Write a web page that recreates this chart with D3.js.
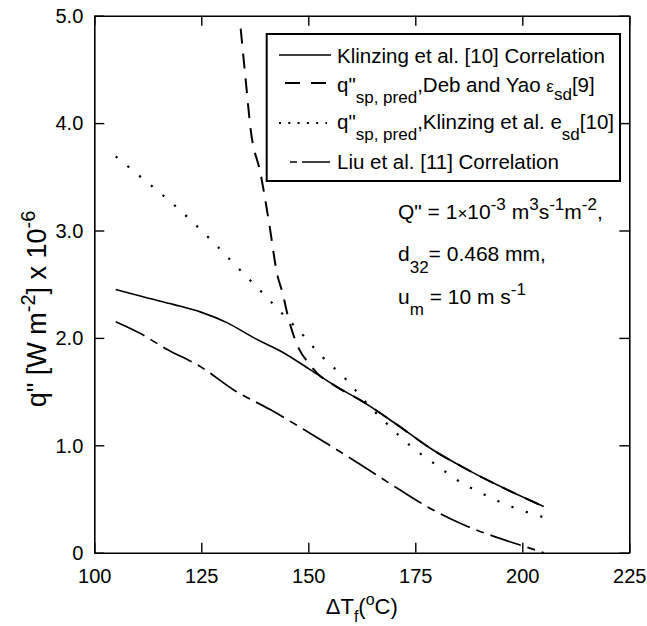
<!DOCTYPE html>
<html>
<head>
<meta charset="utf-8">
<script src="https://cdn.jsdelivr.net/npm/d3@7"></script>
<style>
  body { margin: 0; background: #fff; }
  svg { display: block; }
  text { font-family: "Liberation Sans", Arial, Helvetica, sans-serif; fill: #000; }
</style>
</head>
<body>
<svg id="chart" width="647" height="626"></svg>
<script>
// Heat flux q" (W m^-2 x 10^-6) against film temperature difference ΔTf (°C)

// Klinzing et al. [10] correlation
const dtKlinzing = [105, 111.6, 118.6, 124.9, 131.1, 137.3, 144.3, 150.6, 156, 163, 170.8, 178.6, 186.4, 194.2, 205];
const qKlinzing  = [2.45, 2.38, 2.31, 2.24, 2.14, 2.00, 1.86, 1.70, 1.56, 1.40, 1.19, 0.97, 0.79, 0.63, 0.43];

// q"sp,pred with Deb and Yao εsd [9]
const dtDebYao = [134.2, 135.4, 136.5, 138.9, 140.8, 142.8, 143.9, 145.5, 147.8, 150.2, 152.1, 156, 163, 170.8, 178.6, 186.4, 194.2, 205];
const qDebYao  = [4.88, 4.39, 3.95, 3.52, 3.08, 2.58, 2.43, 2.16, 1.90, 1.76, 1.67, 1.56, 1.40, 1.19, 0.97, 0.79, 0.63, 0.43];

// q"sp,pred with Klinzing et al. esd [10]
const dtKlinzingEsd = [105, 110.8, 118.6, 126.8, 134.6, 140.0, 142.6, 148, 153.1, 158.9, 163, 168.9, 174.3, 179.8, 185.6, 191.0, 196.5, 205];
const qKlinzingEsd  = [3.69, 3.50, 3.24, 2.93, 2.61, 2.39, 2.28, 2.06, 1.83, 1.61, 1.42, 1.18, 0.98, 0.82, 0.655, 0.544, 0.444, 0.33];

// Liu et al. [11] correlation
const dtLiu = [105, 110.8, 116.7, 124.9, 132.6, 141.2, 149.8, 161.8, 170.8, 178.6, 186.4, 194.2, 200, 205];
const qLiu  = [2.15, 2.04, 1.90, 1.73, 1.515, 1.33, 1.127, 0.83, 0.60, 0.41, 0.258, 0.14, 0.065, 0.0];

const xTicks = [100, 125, 150, 175, 200, 225];
const yTicks = [0, 1, 2, 3, 4, 5];
const yTickLabels = ["0", "1.0", "2.0", "3.0", "4.0", "5.0"];

const svg = d3.select("#chart");
const x = d3.scaleLinear().domain([100, 225]).range([94.3, 629.3]);
const y = d3.scaleLinear().domain([0, 5]).range([552.7, 15.7]);

const zip = (a, b) => a.map((v, i) => [v, b[i]]);

const series = [
  { xs: dtKlinzing, ys: qKlinzing, dash: null, width: 1.6 },
  { xs: dtDebYao, ys: qDebYao, dash: "15,10", width: 2 },
  { xs: dtKlinzingEsd, ys: qKlinzingEsd, dash: "2.2,13", width: 2.2 },
  { xs: dtLiu, ys: qLiu, dash: "32,7,8,7", width: 1.7 }
];

const line = d3.line().x(d => x(d[0])).y(d => y(d[1])).curve(d3.curveMonotoneX);

// curves
const plot = svg.append("g");
series.forEach(s => {
  plot.append("path")
    .datum(zip(s.xs, s.ys))
    .attr("d", line)
    .attr("fill", "none")
    .attr("stroke", "#000")
    .attr("stroke-width", s.width)
    .attr("stroke-dasharray", s.dash);
});

// axes: ticks point inward on all four sides
const fs = 20;
const gx = svg.append("g").attr("transform", `translate(0,${y(0)})`)
  .call(d3.axisBottom(x).tickValues(xTicks).tickSizeInner(-10).tickSizeOuter(0).tickPadding(16).tickFormat(d3.format("d")));
const gy = svg.append("g").attr("transform", `translate(${x(100)},0)`)
  .call(d3.axisLeft(y).tickValues(yTicks).tickSizeInner(-10).tickSizeOuter(0).tickPadding(11).tickFormat((d, i) => yTickLabels[i]));
const gt = svg.append("g").attr("transform", `translate(0,${y(5)})`)
  .call(d3.axisTop(x).tickValues(xTicks).tickSizeInner(-10).tickSizeOuter(0).tickFormat(""));
const gr = svg.append("g").attr("transform", `translate(${x(225)},0)`)
  .call(d3.axisRight(y).tickValues(yTicks).tickSizeInner(-10).tickSizeOuter(0).tickFormat(""));

[gx, gy, gt, gr].forEach(g => {
  g.selectAll(".domain").attr("stroke", "#000").attr("stroke-width", 1.6);
  g.selectAll(".tick line").attr("stroke", "#000").attr("stroke-width", 1.4);
  g.selectAll(".tick text").attr("font-size", fs).attr("fill", "#000")
    .style("font-family", '"Liberation Sans", Arial, sans-serif');
});
gy.selectAll(".tick text").attr("dy", "0.34em");

// text with sub/superscript runs; parts: [text, shiftPx, fontSize]
function rich(g, x0, y0, parts, size, attrs) {
  const t = g.append("text").attr("x", x0).attr("y", y0).attr("font-size", size);
  if (attrs) Object.entries(attrs).forEach(([k, v]) => t.attr(k, v));
  let cur = 0;
  parts.forEach(([str, shift, sz]) => {
    const ts = t.append("tspan").attr("dy", shift - cur).text(str);
    if (sz) ts.attr("font-size", sz);
    cur = shift;
  });
  return t;
}

// axis titles
rich(svg, x(162.5), 614, [["ΔT", 0], ["f", 8, 16], ["(", 0], ["o", -9, 16], ["C)", 0]], 22, { "text-anchor": "middle" });
const yl = svg.append("g").attr("transform", `translate(46,309) rotate(-90)`);
rich(yl, 0, 0, [['q" [W m', 0], ["-2", -11, 20], ["] x 10", 0], ["-6", -11, 20]], 27, { "text-anchor": "middle" });

// legend
const lg = svg.append("g");
lg.append("rect").attr("x", 266.7).attr("y", 34).attr("width", 353.3).attr("height", 147)
  .attr("fill", "#fff").attr("stroke", "#000").attr("stroke-width", 2);

const sub = 17;
const legendRows = [
  { y: 55, base: 63, s: series[0], x0: 279, x1: 331, dash: null,
    parts: [["Klinzing et al. [10] Correlation", 0]] },
  { y: 83, base: 92, s: series[1], x0: 285, x1: 327, dash: "15,11",
    parts: [['q"', 0], ["sp, pred", 11, sub], [",Deb and Yao ", 0], ["ε", 0, 17], ["sd", 8, sub], ["[9]", 0]] },
  { y: 123, base: 129, s: series[2], x0: 279, x1: 327, dash: "2,7.3",
    parts: [['q"', 0], ["sp, pred", 11, sub], [",Klinzing et al. e", 0], ["sd", 11, sub], ["[10]", 0]] },
  { y: 162, base: 169, s: series[3], x0: 290, x1: 330, dash: "7,5,28",
    parts: [["Liu et al. [11] Correlation", 0]] }
];
legendRows.forEach(r => {
  lg.append("path")
    .datum([[r.x0, r.y], [r.x1, r.y]])
    .attr("d", d3.line())
    .attr("fill", "none").attr("stroke", "#000")
    .attr("stroke-width", r.s.width)
    .attr("stroke-dasharray", r.dash);
  rich(lg, 337, r.base, r.parts, 20.5);
});

// conditions
const ss = 17;
rich(svg, 398, 219, [['Q" = 1', 0], ["×", 0, ss], ["10", 0], ["-3", -9, ss], [" m", 0], ["3", -9, ss], ["s", 0], ["-1", -9, ss], ["m", 0], ["-2", -9, ss], [",", 0]], 21);
rich(svg, 398, 261, [["d", 0], ["32", 12, ss], ["= 0.468 mm,", 0]], 21);
rich(svg, 398, 304, [["u", 0], ["m", 11, ss], [" = 10 m s", 0], ["-1", -9, ss]], 21);
</script>
</body>
</html>
